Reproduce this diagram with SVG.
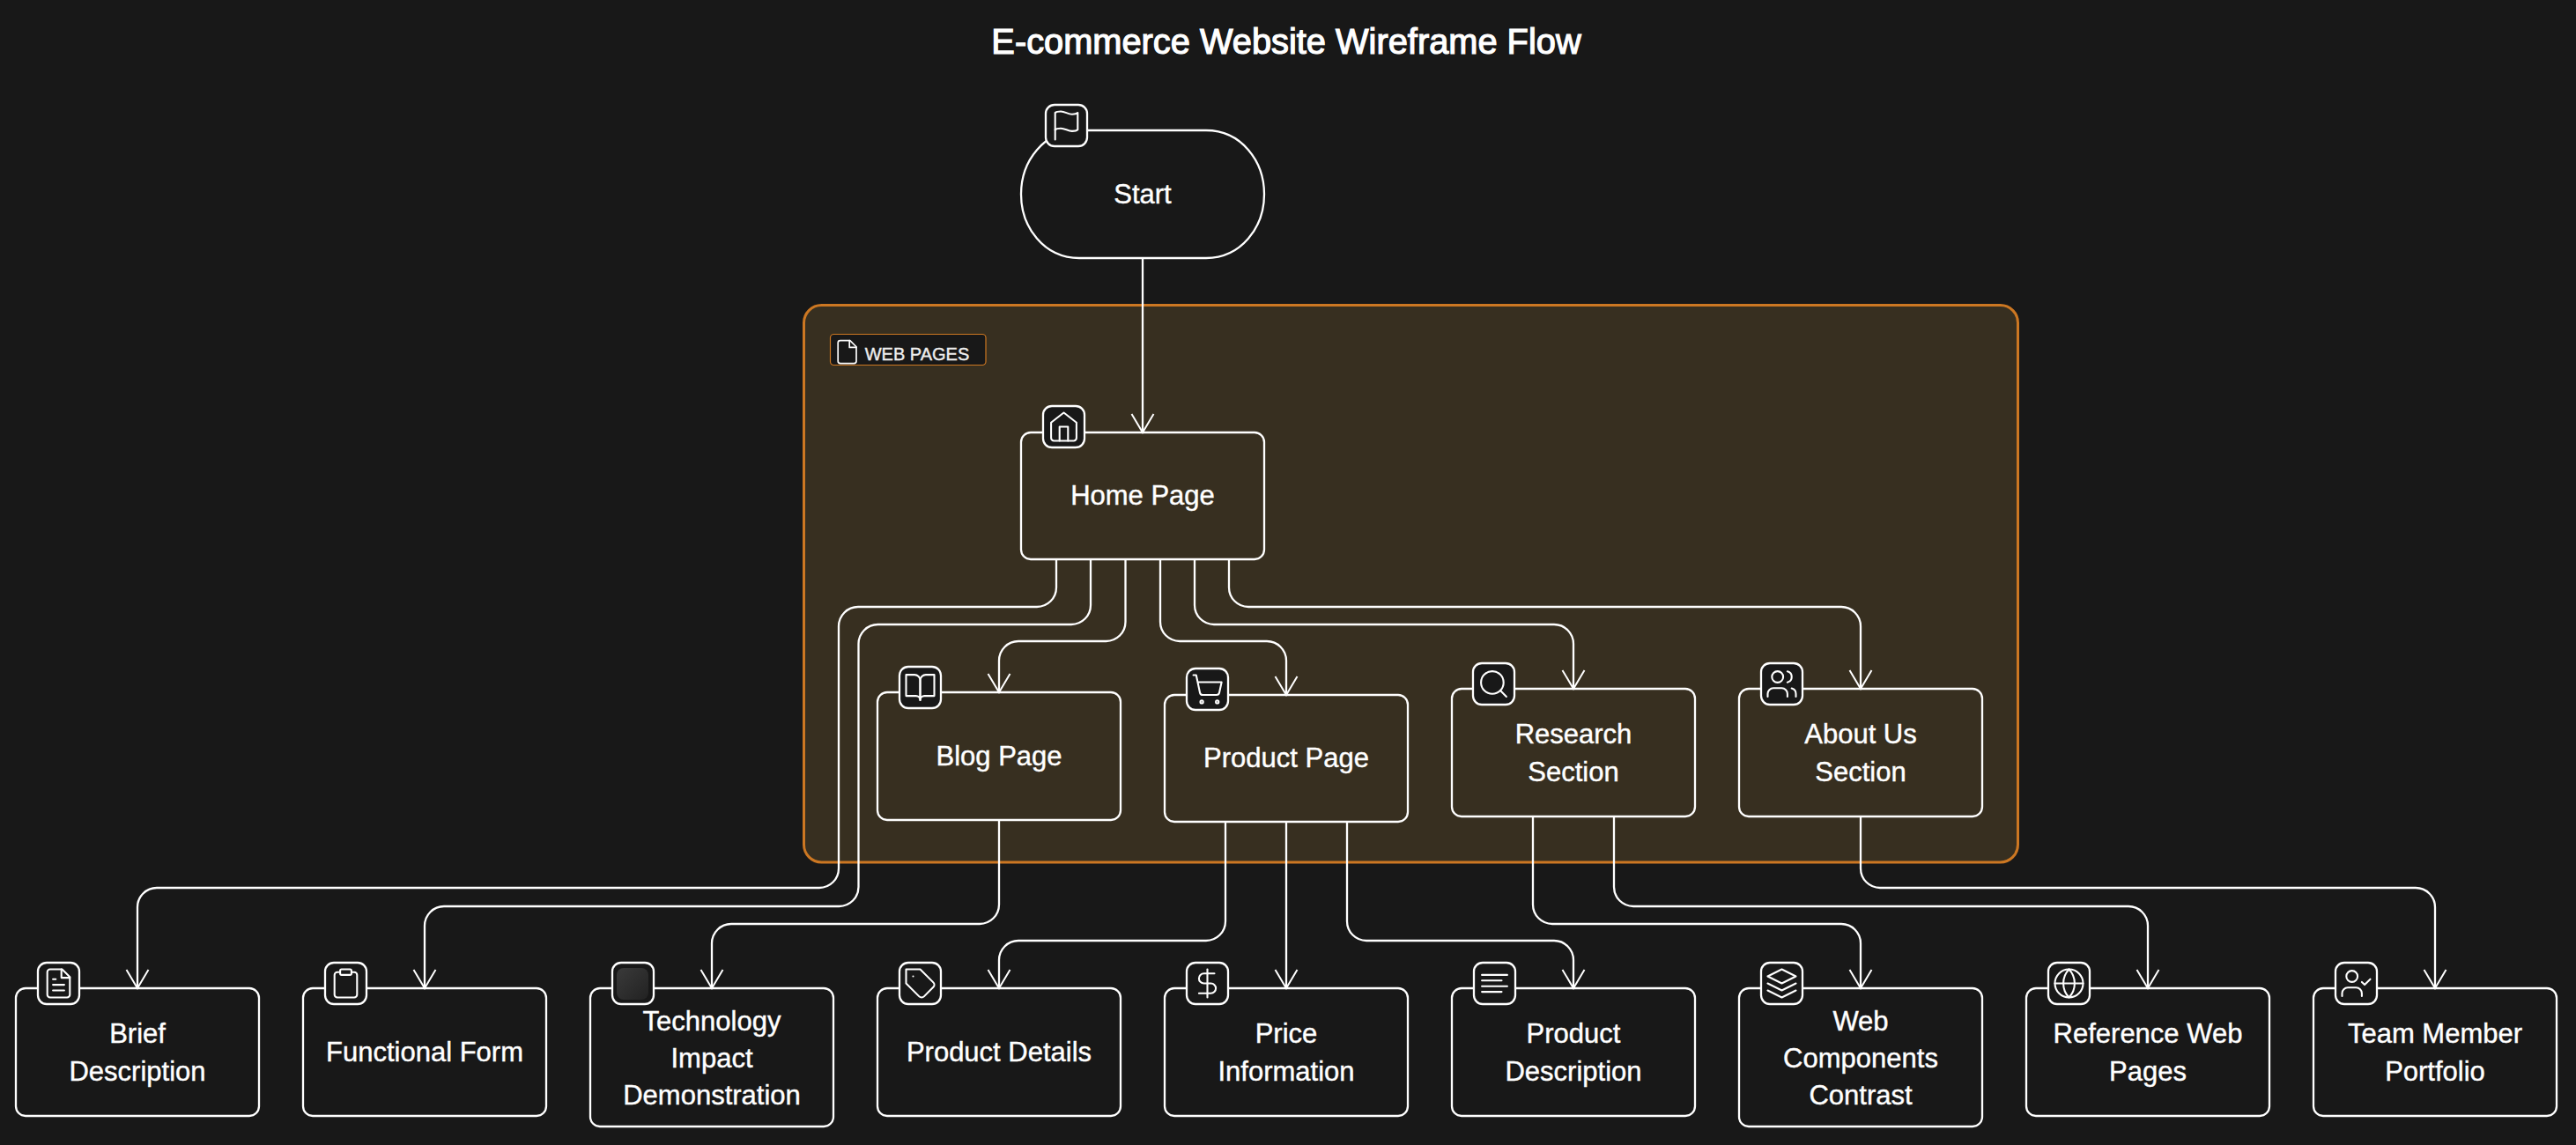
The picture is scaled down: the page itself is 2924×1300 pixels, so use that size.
<svg xmlns="http://www.w3.org/2000/svg" width="2924" height="1300" viewBox="0 0 2924 1300">
<style>
text{font-family:"Liberation Sans",Arial,sans-serif;fill:#fff;text-anchor:middle}
.t{font-size:31px;stroke:#fff;stroke-width:.4px}
.title{font-size:39.800px;stroke:#fff;stroke-width:1.200px}
.n{fill:none;stroke:#fff;stroke-width:2.300}
.ib{fill:#181818;stroke:#fff;stroke-width:2.300}
.e{fill:none;stroke:#fff;stroke-width:2.300;marker-end:url(#a)}
.ic{fill:none;stroke:#fff;stroke-width:1.300;stroke-linecap:round;stroke-linejoin:round}
</style>
<defs>
<linearGradient id="g" x1="0" y1="0" x2="1" y2="1"><stop offset="0" stop-color="#3a3a3a"/><stop offset="1" stop-color="#222"/></linearGradient>
<marker id="a" markerUnits="userSpaceOnUse" markerWidth="30" markerHeight="30" refX="21" refY="13" orient="auto" overflow="visible"><path d="M0 .5L21 13L0 25.5" fill="none" stroke="#fff" stroke-width="2"/></marker>
<g id="i-flag"><path d="M4 15s1-1 4-1 5 2 8 2 4-1 4-1V3s-1 1-4 1-5-2-8-2-4 1-4 1z"/><path d="M4 22v-7"/></g>
<g id="i-home"><path d="m3 9 9-7 9 7v11a2 2 0 0 1-2 2H5a2 2 0 0 1-2-2z"/><path d="M9 22V12h6v10"/></g>
<g id="i-file"><path d="M14.500 2H6a2 2 0 0 0-2 2v16a2 2 0 0 0 2 2h12a2 2 0 0 0 2-2V7.500L14.500 2z"/><path d="M14 2v6h6"/></g>
<g id="i-book"><path d="M2 3h6a4 4 0 0 1 4 4v14a3 3 0 0 0-3-3H2z"/><path d="M22 3h-6a4 4 0 0 0-4 4v14a3 3 0 0 1 3-3h7z"/></g>
<g id="i-cart"><circle cx="8" cy="21" r="1"/><circle cx="19" cy="21" r="1"/><path d="M2.050 2.050h2l2.660 12.420a2 2 0 0 0 2 1.580h9.780a2 2 0 0 0 1.950-1.570l1.650-7.430H5.120"/></g>
<g id="i-search"><circle cx="11" cy="11" r="8"/><path d="m21 21-4.300-4.300"/></g>
<g id="i-users"><path d="M16 21v-2a4 4 0 0 0-4-4H6a4 4 0 0 0-4 4v2"/><circle cx="9" cy="7" r="4"/><path d="M22 21v-2a4 4 0 0 0-3-3.870"/><path d="M16 3.130a4 4 0 0 1 0 7.750"/></g>
<g id="i-ftext"><use href="#i-file"/><path d="M10 9H8M16 13H8M16 17H8"/></g>
<g id="i-clip"><rect x="8" y="2" width="8" height="4" rx="1"/><path d="M16 4h2a2 2 0 0 1 2 2v14a2 2 0 0 1-2 2H6a2 2 0 0 1-2-2V6a2 2 0 0 1 2-2h2"/></g>
<g id="i-tag"><path d="M12 2H2v10l9.290 9.290c.940.940 2.480.940 3.420 0l6.580-6.580c.940-.940.940-2.480 0-3.420L12 2Z"/><path d="M7 7h.010"/></g>
<g id="i-dollar"><path d="M12 2v20"/><path d="M17 5H9.500a3.500 3.500 0 0 0 0 7h5a3.500 3.500 0 0 1 0 7H6"/></g>
<g id="i-align"><path d="M17 10H3M21 6H3M21 14H3M17 18H3"/></g>
<g id="i-layers"><path d="M12 2 2 7l10 5 10-5z"/><path d="m2 17 10 5 10-5"/><path d="m2 12 10 5 10-5"/></g>
<g id="i-globe"><circle cx="12" cy="12" r="10"/><path d="M12 2a14.500 14.500 0 0 0 0 20 14.500 14.500 0 0 0 0-20"/><path d="M2 12h20"/></g>
<g id="i-ucheck"><path d="M16 21v-2a4 4 0 0 0-4-4H6a4 4 0 0 0-4 4v2"/><circle cx="9" cy="7" r="4"/><path d="m16 11 2 2 4-4"/></g>
</defs>
<rect width="2924" height="1300" fill="#181818"/>
<text class="title" x="1460" y="61">E-commerce Website Wireframe Flow</text>
<g id="web-pages">
<rect x="912.500" y="346.500" width="1378" height="632.500" rx="20" fill="#372f20" stroke="#cc7722" stroke-width="3"/>
<rect x="942.500" y="379.500" width="176.500" height="35" rx="4" fill="#181818" stroke="#cc7722" stroke-width="1.200"/>
<use href="#i-file" class="ic" transform="translate(946,384) scale(1.3)"/>
<text x="1041" y="409" font-size="20" style="fill:#eee;stroke:#eee;stroke-width:.4px">WEB PAGES</text>
</g>
<g id="connectors">
<path class="e" d="M1297 293V491"/>
<path class="e" d="M1199 635V667A22 22 0 0 1 1177 689H974A22 22 0 0 0 952 711V986A22 22 0 0 1 930 1008H178A22 22 0 0 0 156 1030V1122"/>
<path class="e" d="M1238 635V687A22 22 0 0 1 1216 709H996.500A22 22 0 0 0 974.500 731V1007A22 22 0 0 1 952.500 1029H504A22 22 0 0 0 482 1051V1122"/>
<path class="e" d="M1277.500 635V706A22 22 0 0 1 1255.500 728H1156A22 22 0 0 0 1134 750V786"/>
<path class="e" d="M1317 635V706A22 22 0 0 0 1339 728H1438A22 22 0 0 1 1460 750V789"/>
<path class="e" d="M1356 635V687A22 22 0 0 0 1378 709H1764A22 22 0 0 1 1786 731V782"/>
<path class="e" d="M1395 635V667A22 22 0 0 0 1417 689H2090A22 22 0 0 1 2112 711V782"/>
<path class="e" d="M1134 931V1027A22 22 0 0 1 1112 1049H830A22 22 0 0 0 808 1071V1122"/>
<path class="e" d="M1391 933V1046A22 22 0 0 1 1369 1068H1156A22 22 0 0 0 1134 1090V1122"/>
<path class="e" d="M1460 933V1122"/>
<path class="e" d="M1529 933V1046A22 22 0 0 0 1551 1068H1764A22 22 0 0 1 1786 1090V1122"/>
<path class="e" d="M1740 927V1027A22 22 0 0 0 1762 1049H2090A22 22 0 0 1 2112 1071V1122"/>
<path class="e" d="M1832 927V1007A22 22 0 0 0 1854 1029H2416A22 22 0 0 1 2438 1051V1122"/>
<path class="e" d="M2112 927V986A22 22 0 0 0 2134 1008H2742A22 22 0 0 1 2764 1030V1122"/>
</g>
<g id="start"><path class="n" style="fill:#181818" d="M1225 148H1369C1409 148 1435 183 1435 220.500C1435 258 1409 293 1369 293H1225C1185 293 1159 258 1159 220.500C1159 183 1185 148 1225 148Z"/><rect class="ib" x="1187" y="119" width="47" height="47" rx="10"/><use href="#i-flag" class="ic" transform="translate(1191.300,123.300) scale(1.6)"/><text class="t" x="1297" y="231">Start</text></g>
<g id="home"><rect class="n" x="1159" y="491" width="276" height="144" rx="11"/><rect class="ib" x="1184" y="461" width="47" height="47" rx="10"/><use href="#i-home" class="ic" transform="translate(1188.300,465.300) scale(1.6)"/><text class="t" x="1297" y="573">Home Page</text></g>
<g id="blog"><rect class="n" x="996" y="786" width="276" height="145" rx="11"/><rect class="ib" x="1021" y="757" width="47" height="47" rx="10"/><use href="#i-book" class="ic" transform="translate(1025.300,761.300) scale(1.6)"/><text class="t" x="1134" y="869">Blog Page</text></g>
<g id="product"><rect class="n" x="1322" y="789" width="276" height="144" rx="11"/><rect class="ib" x="1347" y="759" width="47" height="47" rx="10"/><use href="#i-cart" class="ic" transform="translate(1351.300,763.300) scale(1.6)"/><text class="t" x="1460" y="871">Product Page</text></g>
<g id="research"><rect class="n" x="1648" y="782" width="276" height="145" rx="11"/><rect class="ib" x="1672" y="753" width="47" height="47" rx="10"/><use href="#i-search" class="ic" transform="translate(1676.300,757.300) scale(1.6)"/><text class="t" x="1786" y="844">Research</text><text class="t" x="1786" y="887">Section</text></g>
<g id="about"><rect class="n" x="1974" y="782" width="276" height="145" rx="11"/><rect class="ib" x="1999" y="753" width="47" height="47" rx="10"/><use href="#i-users" class="ic" transform="translate(2003.300,757.300) scale(1.6)"/><text class="t" x="2112" y="844">About Us</text><text class="t" x="2112" y="887">Section</text></g>
<g id="brief"><rect class="n" x="18" y="1122" width="276" height="145" rx="11"/><rect class="ib" x="43" y="1093" width="47" height="47" rx="10"/><use href="#i-ftext" class="ic" transform="translate(47.300,1097.300) scale(1.6)"/><text class="t" x="156" y="1184">Brief</text><text class="t" x="156" y="1227">Description</text></g>
<g id="form"><rect class="n" x="344" y="1122" width="276" height="145" rx="11"/><rect class="ib" x="369" y="1093" width="47" height="47" rx="10"/><use href="#i-clip" class="ic" transform="translate(373.300,1097.300) scale(1.6)"/><text class="t" x="482" y="1205">Functional Form</text></g>
<g id="tech"><rect class="n" x="670" y="1122" width="276" height="157" rx="11"/><rect class="ib" x="695" y="1093" width="47" height="47" rx="10"/><rect x="700" y="1099" width="36" height="36" rx="8" fill="url(#g)"/><text class="t" x="808" y="1170">Technology</text><text class="t" x="808" y="1212">Impact</text><text class="t" x="808" y="1254">Demonstration</text></g>
<g id="details"><rect class="n" x="996" y="1122" width="276" height="145" rx="11"/><rect class="ib" x="1021" y="1093" width="47" height="47" rx="10"/><use href="#i-tag" class="ic" transform="translate(1025.300,1097.300) scale(1.6)"/><text class="t" x="1134" y="1205">Product Details</text></g>
<g id="price"><rect class="n" x="1322" y="1122" width="276" height="145" rx="11"/><rect class="ib" x="1347" y="1093" width="47" height="47" rx="10"/><use href="#i-dollar" class="ic" transform="translate(1351.300,1097.300) scale(1.6)"/><text class="t" x="1460" y="1184">Price</text><text class="t" x="1460" y="1227">Information</text></g>
<g id="desc"><rect class="n" x="1648" y="1122" width="276" height="145" rx="11"/><rect class="ib" x="1673" y="1093" width="47" height="47" rx="10"/><use href="#i-align" class="ic" transform="translate(1677.300,1097.300) scale(1.6)"/><text class="t" x="1786" y="1184">Product</text><text class="t" x="1786" y="1227">Description</text></g>
<g id="contrast"><rect class="n" x="1974" y="1122" width="276" height="157" rx="11"/><rect class="ib" x="1999" y="1093" width="47" height="47" rx="10"/><use href="#i-layers" class="ic" transform="translate(2003.300,1097.300) scale(1.6)"/><text class="t" x="2112" y="1170">Web</text><text class="t" x="2112" y="1212">Components</text><text class="t" x="2112" y="1254">Contrast</text></g>
<g id="reference"><rect class="n" x="2300" y="1122" width="276" height="145" rx="11"/><rect class="ib" x="2325" y="1093" width="47" height="47" rx="10"/><use href="#i-globe" class="ic" transform="translate(2329.300,1097.300) scale(1.6)"/><text class="t" x="2438" y="1184">Reference Web</text><text class="t" x="2438" y="1227">Pages</text></g>
<g id="team"><rect class="n" x="2626" y="1122" width="276" height="145" rx="11"/><rect class="ib" x="2651" y="1093" width="47" height="47" rx="10"/><use href="#i-ucheck" class="ic" transform="translate(2655.300,1097.300) scale(1.6)"/><text class="t" x="2764" y="1184">Team Member</text><text class="t" x="2764" y="1227">Portfolio</text></g>
</svg>
